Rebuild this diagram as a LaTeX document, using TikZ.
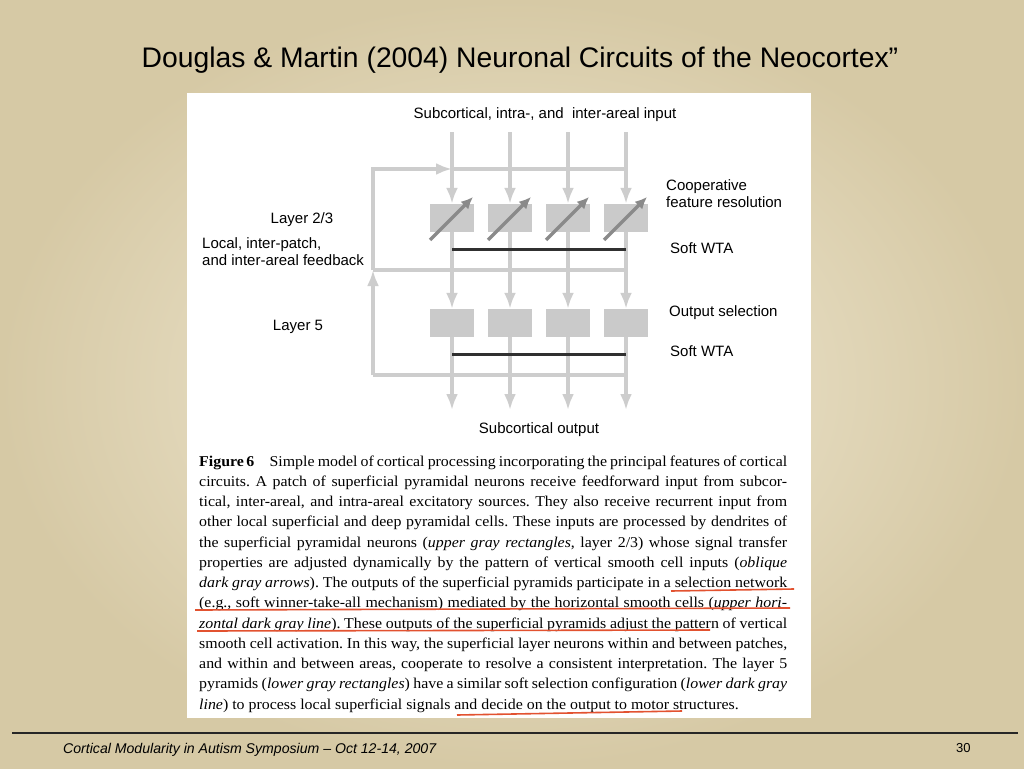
\documentclass[tikz,border=0pt]{standalone}
\usepackage{fontspec}
\setmainfont{Liberation Serif}
\setsansfont{Liberation Sans}
\newfontfamily\capfont{Liberation Serif}[FakeStretch=1.06, WordSpace={1,1,3}]
\usetikzlibrary{arrows.meta}

\definecolor{slidelight}{RGB}{243,236,216}
\definecolor{slidedark}{RGB}{214,201,165}
\definecolor{wiregray}{RGB}{205,205,205}
\definecolor{cellgray}{RGB}{202,202,202}
\definecolor{obliquegray}{RGB}{138,138,138}
\definecolor{wtagray}{RGB}{48,48,48}
\definecolor{markred}{RGB}{226,82,48}

\begin{document}
\begin{tikzpicture}[
    x=1pt,
    y=-1pt,
    lab/.style={font=\sffamily\fontsize{15}{17}\selectfont, inner sep=0pt, align=left},
    cell/.style={fill=cellgray, minimum width=44pt, minimum height=28pt, inner sep=0pt},
    wire/.style={draw=wiregray, line width=4pt},
    feed/.style={wire, -{Latex[length=16pt,width=12pt]}},
    wta/.style={draw=wtagray, line width=3pt},
    oblique/.style={draw=obliquegray, line width=3.5pt, -{Latex[length=12pt,width=11pt]}},
    redline/.style={draw=markred, line width=1.6pt}
]
\useasboundingbox (0,0) rectangle (1024,768);
\shade[inner color=slidelight, outer color=slidedark] (0,0) rectangle (1024,768);
\fill[white] (187,93) rectangle (811,718);

% slide title and footer
\node[font=\sffamily\fontsize{28.3}{32}\selectfont, anchor=base, inner sep=0pt] (title) at (520,67) {Douglas \& Martin (2004) Neuronal Circuits of the Neocortex”};
\draw[draw=black!85, line width=2pt] (12,733) -- (1018,733);
\node[font=\sffamily\itshape\fontsize{14.1}{16}\selectfont, anchor=base west, inner sep=0pt] (footer) at (63,753) {Cortical Modularity in Autism Symposium – Oct 12-14, 2007};
\node[font=\sffamily\fontsize{13}{15}\selectfont, anchor=base west, inner sep=0pt] (pageno) at (956,752) {30};

% columns of the patch
\foreach \i/\x in {1/452,2/510,3/568,4/626} {
  \coordinate (in\i) at (\x,132);
  \coordinate (out\i) at (\x,410);
  \node[cell] (up\i) at (\x,218) {};
  \node[cell] (lo\i) at (\x,323) {};
}

% feedback loop
\coordinate (fbtop) at (373,169);
\coordinate (fbmid) at (373,270);
\coordinate (fbbot) at (373,375);
\draw[wire] (in1 |- fbtop) -- (in4 |- fbtop);
\draw[wire] (fbmid) -- (in4 |- fbmid);
\draw[wire] (fbbot) -- (in4 |- fbbot);
\draw[feed] (fbmid) -- (fbtop) -- (in1 |- fbtop);
\draw[feed] (fbbot) -- (fbmid);

\foreach \i in {1,...,4} {
  \draw[feed] (in\i) -- (up\i.north);
  \draw[feed] (up\i.south) -- (lo\i.north);
  \draw[feed] (lo\i.south) -- (out\i);
  \draw[oblique] ([shift={(-22,22)}]up\i.center) -- ([shift={(21,-21)}]up\i.center);
}

% soft WTA lines
\draw[wta] (in1 |- 0,249) -- (in4 |- 0,249);
\draw[wta] (in1 |- 0,354) -- (in4 |- 0,354);

% labels
\node[lab, anchor=base] (input) at (545,118) {Subcortical, intra-, and\ \ inter-areal input};
\node[lab, anchor=base] (l23) at (302,223) {Layer 2/3};
\node[lab, anchor=base west] (feedback) at (202,265) {Local, inter-patch,\\and inter-areal feedback};
\node[lab, anchor=base] (l5) at (298,330) {Layer 5};
\node[lab, anchor=base west] (coop) at (666,207) {Cooperative\\feature resolution};
\node[lab, anchor=base west] (wtaup) at (670,253) {Soft WTA};
\node[lab, anchor=base west] (outsel) at (669,316) {Output selection};
\node[lab, anchor=base west] (wtalo) at (670,356) {Soft WTA};
\node[lab, anchor=base] (output) at (539,433) {Subcortical output};

% figure caption
\node[anchor=base west, inner sep=0pt, text width=588pt, align=justify, font={\capfont\fontsize{15}{20.25}\selectfont\frenchspacing\tolerance=9999\relax}] (caption) at (199,466) {%
\textbf{Figure\,6}\hspace{1.1em minus 0.4em}Simple model of cortical processing incorporating the principal features of cortical\linebreak
circuits. A patch of superficial pyramidal neurons receive feedforward input from subcor-\linebreak
tical, inter-areal, and intra-areal excitatory sources. They also receive recurrent input from\linebreak
other local superficial and deep pyramidal cells. These inputs are processed by dendrites of\linebreak
the superficial pyramidal neurons (\textit{upper gray rectangles}, layer 2/3) whose signal transfer\linebreak
properties are adjusted dynamically by the pattern of vertical smooth cell inputs (\textit{oblique}\linebreak
\textit{dark gray arrows}). The outputs of the superficial pyramids participate in a selection network\linebreak
(e.g., soft winner-take-all mechanism) mediated by the horizontal smooth cells (\textit{upper hori-}\linebreak
\textit{zontal dark gray line}). These outputs of the superficial pyramids adjust the pattern of vertical\linebreak
smooth cell activation. In this way, the superficial layer neurons within and between patches,\linebreak
and within and between areas, cooperate to resolve a consistent interpretation. The layer 5\linebreak
pyramids (\textit{lower gray rectangles}) have a similar soft selection configuration (\textit{lower dark gray}\linebreak
\textit{line}) to process local superficial signals and decide on the output to motor structures.};

% hand-drawn underlines
\draw[redline] (671,591) -- (794,589);
\draw[redline] (195,610) -- (790,608);
\draw[redline] (197,631) -- (710,630);
\draw[redline] (457,715) -- (682,711);
\end{tikzpicture}
\end{document}
